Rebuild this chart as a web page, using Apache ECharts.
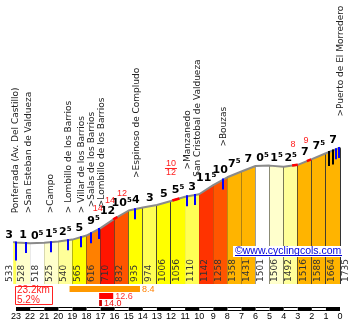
<!DOCTYPE html>
<html><head><meta charset="utf-8">
<script src="https://cdn.jsdelivr.net/npm/echarts@6/dist/echarts.min.js"></script>
<style>html,body{margin:0;padding:0;background:#fff}#c{width:354px;height:324px}</style>
</head><body><div id="c"></div>
<script>
// ---------- DATA ----------
const kms = [23.2, 23, 22, 21, 20, 19, 18, 17, 16, 15, 14, 13, 12, 11, 10, 9, 8, 7, 6, 5, 4, 3, 2, 1, 0];
const elevations = [533, 528, 518, 525, 540, 565, 616, 710, 832, 935, 974, 1006, 1056, 1110, 1142, 1258, 1358, 1431, 1501, 1506, 1492, 1516, 1588, 1664, 1735];
const gradeLabels = ['3', '1', '0.5', '1.5', '2.5', '5', '9.5', '12', '10.5', '4', '3', '5', '5.5', '3', '11.5', '10', '7.5', '7', '0.5', '1.5', '2.5', '7', '7.5', '7'];
const placeNames = ['Ponferrada (Av. Del Castillo)', '>San Esteban de Valdueza', '>Campo', '> Lombillo de los Barrios', '> Villar de los Barrios', '>Salas de los Barrios', '>Lombillo de los Barrios', '>Espinoso de Compludo', '>Manzanedo', 'San Cristobal de Valdueza', '>Bouzas', '>Puerto de El Morredero'];
const placeKms = [23.1, 22.2, 20.6, 19.3, 18.4, 17.7, 17.0, 14.5, 10.9, 10.2, 8.3, 0];
const steepKms = [17.2, 16.33, 15.48, 12.0, 3.34, 2.41];
const steepLabels = ['14', '14', '12', '10/12', '8', '9'];
const steepFrom = [16.1, 11.9, 3.4, 2.35];
const steepTo = [15.8, 11.4, 3.0, 2.05];
const blueMarkerKms = [23.0, 22.3, 20.5, 19.3, 18.4, 17.7, 17.1, 14.55, 10.85, 10.3, 8.3, 0.28, 0.07];
const blackMarkerKms = [0.78, 0.5];
const maxFrom = [19.2, 17.1, 17.1];
const maxTo = [14.2, 16.1, 16.9];
const maxGrades = ['8.4', '12.6', '14.0'];
const totalDistance = '23.2km';
const averageGrade = '5.2%';

// ---------- LAYOUT / STYLE ----------
const placeLift = [29, 30, 29, 27, 24, 26, 21, 31, 27, 18, 33, 31];
const maxBarColors = ['#FF9900', '#FF0000', '#CC0000'];
const maxTextColors = ['#FF8000', '#FF3333', '#EE1111'];

function colColor(g) {
  if (g < 1) return '#FFFFFF';
  if (g < 2) return '#FFFFCC';
  if (g < 3) return '#FFFF99';
  if (g < 4) return '#FFFF55';
  if (g < 6) return '#FFFF00';
  if (g < 8) return '#FFB400';
  if (g < 10) return '#FF8000';
  if (g < 11) return '#FF5500';
  if (g < 12) return '#FF3300';
  return '#FF1500';
}
function elevAt(km) {
  for (let i = 0; i < kms.length - 1; i++) {
    const a = kms[i], b = kms[i + 1];
    if (km <= a && km >= b) return elevations[i] + (elevations[i + 1] - elevations[i]) * (a - km) / (a - b);
  }
  return km > kms[0] ? elevations[0] : elevations[elevations.length - 1];
}
function gradeRich(s) {
  const v = parseFloat(s), n = Math.floor(v);
  return (v - n > 0.25) ? '{b|' + n + '}{s|5}' : '{b|' + n + '}';
}
const crisp = x => Math.round(x - 0.5) + 0.5;
const segIdx = gradeLabels.map((g, i) => [kms[i], elevations[i]]);

const chart = echarts.init(document.getElementById('c'));
chart.setOption({
  animation: false,
  backgroundColor: '#fff',
  grid: { left: 13.2, right: 14, top: 14, bottom: 40, containLabel: false, outerBoundsMode: 'none' },
  xAxis: {
    type: 'value', min: 0, max: 23.2, interval: 1, inverse: true,
    axisLine: { show: false }, axisTick: { show: false }, splitLine: { show: false },
    axisLabel: { margin: 28, fontSize: 9, color: '#000', fontFamily: 'Liberation Sans',
      formatter: v => (Math.abs(v - Math.round(v)) < 1e-6 ? String(Math.round(v)) : '') }
  },
  yAxis: { type: 'value', min: 0, max: 3435, show: false },
  graphic: [
    { type: 'rect', shape: { x: 15.5, y: 286.5, width: 37, height: 18 }, style: { fill: '#fff', stroke: '#FF2020', lineWidth: 1 }, z: 10 },
    { type: 'text', x: 17, y: 290.5, style: { text: totalDistance, fill: '#FF2020', font: '10px "Liberation Sans"', verticalAlign: 'middle' }, z: 11 },
    { type: 'text', x: 17, y: 300, style: { text: averageGrade, fill: '#FF2020', font: '10px "Liberation Sans"', verticalAlign: 'middle' }, z: 11 },
    { type: 'rect', shape: { x: 233, y: 246, width: 109, height: 11 }, style: { fill: '#fff' }, z: 10 },
    { type: 'text', x: 235, y: 251.5, style: { text: '©www.cyclingcols.com', fill: '#0000DD', font: '10.5px "Liberation Sans"', verticalAlign: 'middle' }, z: 11 },
    { type: 'line', shape: { x1: 235, y1: 255.5, x2: 342, y2: 255.5 }, style: { stroke: '#0000DD', lineWidth: 1 }, z: 11 }
  ],
  series: [
    { // coloured km columns
      type: 'custom', z: 1, data: segIdx,
      renderItem: (params, api) => {
        const i = params.dataIndex;
        const p0 = api.coord([kms[i], elevations[i]]), p1 = api.coord([kms[i + 1], elevations[i + 1]]);
        const b0 = api.coord([kms[i], 0]), b1 = api.coord([kms[i + 1], 0]);
        const x1 = crisp(p1[0]);
        return { type: 'group', children: [
          { type: 'polygon', shape: { points: [b0, p0, p1, b1] }, style: { fill: colColor(parseFloat(gradeLabels[i])) } },
          { type: 'line', shape: { x1: x1, y1: p1[1], x2: x1, y2: b1[1] }, style: { stroke: '#333', lineWidth: 1 } }
        ] };
      }
    },
    { // profile outline
      type: 'line', z: 2, data: kms.map((k, i) => [k, elevations[i]]), showSymbol: false, symbol: 'none',
      lineStyle: { color: '#8a8a8a', width: 2 }, silent: true
    },
    { // steep red bits on the profile
      type: 'custom', z: 3, data: steepFrom.map((f, i) => [f, steepTo[i]]),
      renderItem: (params, api) => {
        const i = params.dataIndex, f = steepFrom[i], t = steepTo[i];
        const pts = [api.coord([f, elevAt(f)])];
        kms.forEach(k => { if (k < f && k > t) pts.push(api.coord([k, elevAt(k)])); });
        pts.push(api.coord([t, elevAt(t)]));
        return { type: 'polyline', shape: { points: pts }, style: { stroke: '#FF0000', lineWidth: 2.5, fill: null } };
      }
    },
    { // place markers
      type: 'custom', z: 4, data: blueMarkerKms.concat(blackMarkerKms).map(k => [k, 0]),
      renderItem: (params, api) => {
        const i = params.dataIndex, nb = blueMarkerKms.length;
        const k = i < nb ? blueMarkerKms[i] : blackMarkerKms[i - nb];
        const p = api.coord([k, elevAt(k)]);
        const x = Math.round(p[0]);
        const len = i < nb ? (i === 0 ? 18 : 10) : 14;
        return { type: 'line', shape: { x1: x, y1: p[1] - 1, x2: x, y2: p[1] + len }, style: { stroke: i < nb ? '#0000FF' : '#000', lineWidth: 2 } };
      }
    },
    { // elevation labels
      type: 'custom', z: 5, data: kms.map((k, i) => [k, elevations[i]]),
      renderItem: (params, api) => {
        const i = params.dataIndex;
        const b = api.coord([kms[i], 0]);
        return { type: 'text', x: b[0] + (i === 0 ? -3.5 : 5.5), y: b[1] - 2, rotation: Math.PI / 2,
          style: { text: String(elevations[i]), fill: '#333', font: '9px "DejaVu Sans"', align: 'left', verticalAlign: 'middle' } };
      }
    },
    { // gradient labels
      type: 'custom', z: 6, data: segIdx,
      renderItem: (params, api) => {
        const i = params.dataIndex;
        const p0 = api.coord([kms[i], elevations[i]]), p1 = api.coord([kms[i + 1], elevations[i + 1]]);
        const x = i === 0 ? p0[0] - 4 : (p0[0] + p1[0]) / 2;
        const y = Math.min(p0[1], p1[1]) - 1.5;
        return { type: 'text', x: x, y: y,
          style: { text: gradeRich(gradeLabels[i]), align: 'center', verticalAlign: 'bottom',
            rich: {
              b: { font: 'bold 11px "DejaVu Sans"', fill: '#000', lineHeight: 12, verticalAlign: 'bottom' },
              s: { font: 'bold 7px "DejaVu Sans"', fill: '#000', lineHeight: 8, verticalAlign: 'top' }
            } } };
      }
    },
    { // steep red labels
      type: 'custom', z: 6, data: steepKms.map(k => [k, 0]),
      renderItem: (params, api) => {
        const i = params.dataIndex, k = steepKms[i];
        const p = api.coord([k, elevAt(k)]);
        const st = { fill: '#FF2020', font: '9px "Liberation Sans"', align: 'center', verticalAlign: 'middle' };
        const lab = steepLabels[i];
        if (lab.indexOf('/') >= 0) {
          const parts = lab.split('/');
          return { type: 'group', children: [
            { type: 'text', x: p[0], y: p[1] - 37, style: Object.assign({}, st, { text: parts[0] }) },
            { type: 'line', shape: { x1: p[0] - 6, y1: p[1] - 32.5, x2: p[0] + 6, y2: p[1] - 32.5 }, style: { stroke: '#FF2020', lineWidth: 1 } },
            { type: 'text', x: p[0], y: p[1] - 28, style: Object.assign({}, st, { text: parts[1] }) }
          ] };
        }
        return { type: 'text', x: p[0], y: p[1] - 21, style: Object.assign({}, st, { text: lab }) };
      }
    },
    { // place names
      type: 'custom', z: 7, data: placeKms.map(k => [k, 0]),
      renderItem: (params, api) => {
        const i = params.dataIndex, k = placeKms[i];
        const p = api.coord([k, elevAt(k)]);
        return { type: 'text', x: p[0] + 1, y: p[1] - placeLift[i], rotation: Math.PI / 2,
          style: { text: placeNames[i], fill: '#222', font: '9px "DejaVu Sans"', align: 'left', verticalAlign: 'middle' } };
      }
    },
    { // steepest sections bars
      type: 'custom', z: 8, data: maxFrom.map((f, i) => [f, 0]),
      renderItem: (params, api) => {
        const i = params.dataIndex;
        const a = api.coord([maxFrom[i], 0]), b = api.coord([maxTo[i], 0]);
        const top = a[1] + 2 + i * 7;
        return { type: 'group', children: [
          { type: 'rect', shape: { x: a[0], y: top, width: b[0] - a[0], height: 6 }, style: { fill: maxBarColors[i] } },
          { type: 'text', x: b[0] + 2, y: top + 3.5, style: { text: maxGrades[i], fill: maxTextColors[i], font: '9px "Liberation Sans"', align: 'left', verticalAlign: 'middle' } }
        ] };
      }
    },
    { // distance scale bar
      type: 'custom', z: 8, data: kms.slice(2).map(k => [k, 0]),
      renderItem: (params, api) => {
        const j = params.dataIndex; // segment from km j+1 to km j
        const a = api.coord([j + 1, 0]), b = api.coord([j, 0]);
        const top = a[1] + 23;
        const ch = [{ type: 'rect', shape: { x: a[0], y: top, width: b[0] - a[0], height: 4 }, style: { fill: '#000' } }];
        if (j % 2 === 1) ch.push({ type: 'rect', shape: { x: a[0], y: top + 1, width: b[0] - a[0], height: 2 }, style: { fill: '#fff' } });
        return { type: 'group', children: ch };
      }
    }
  ]
});
</script></body></html>
